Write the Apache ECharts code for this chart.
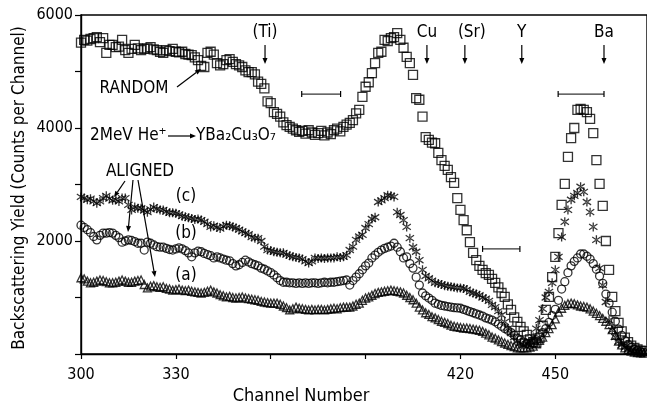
<!DOCTYPE html>
<html>
<head>
<meta charset="utf-8">
<script src="https://cdn.jsdelivr.net/npm/echarts@6/dist/echarts.min.js"></script>
<style>
  html, body { margin: 0; padding: 0; background: #fff; }
  #chart { width: 647px; height: 408px; }
</style>
</head>
<body>
<div id="chart"></div>
<script>
// one point per channel, channel 300 .. 478
var firstChannel = 300;

var randomYield = [
  5510, 5560, 5545, 5575, 5590, 5610, 5520, 5590, 5330, 5470,
  5470, 5430, 5440, 5560, 5380, 5330, 5400, 5470, 5410, 5380,
  5400, 5410, 5430, 5390, 5380, 5350, 5330, 5380, 5360, 5400,
  5350, 5340, 5350, 5310, 5300, 5290, 5250, 5200, 5100, 5080,
  5330, 5350, 5300, 5150, 5110, 5130, 5200, 5220, 5170, 5130,
  5110, 5080, 5020, 4990, 4990, 4950, 4820, 4780, 4700, 4470,
  4440, 4280, 4250, 4200, 4100, 4050, 4020, 3990, 3960, 3930,
  3950, 3900, 3960, 3920, 3880, 3910, 3950, 3870, 3920, 3890,
  3960, 3990, 3940, 4020, 4060, 4090, 4140, 4260, 4320, 4550,
  4730, 4810, 4970, 5150, 5330, 5350, 5560, 5540, 5590, 5610,
  5680, 5560, 5420, 5260, 5150, 4940, 4530, 4500, 4200, 3840,
  3790, 3740, 3730, 3560, 3430, 3330, 3260, 3130, 3030, 2760,
  2550, 2370, 2190, 1980, 1790, 1660, 1560, 1490, 1430, 1400,
  1330, 1260, 1180, 1080, 1010, 880, 780, 650, 570, 480,
  400, 340, 260, 210, 200, 280, 500, 780, 1010, 1360,
  1720, 2140, 2640, 3010, 3490, 3820, 4000, 4320, 4340, 4320,
  4280, 4160, 3910, 3430, 3010, 2620, 2000, 1490, 1010, 760,
  550, 400, 290, 210, 150, 110, 80, 60, 50
];

// (c) aligned, stars
var alignedC = [
  2780, 2760, 2730, 2750, 2700, 2670, 2700, 2760, 2800, 2750,
  2720, 2730, 2700, 2760, 2760, 2640, 2550, 2600, 2580, 2580,
  2540, 2510, 2560, 2600, 2570, 2550, 2550, 2520, 2500, 2500,
  2490, 2470, 2440, 2430, 2410, 2400, 2380, 2390, 2370, 2340,
  2300, 2250, 2270, 2240, 2220, 2260, 2280, 2270, 2250, 2230,
  2200, 2170, 2140, 2120, 2070, 2050, 2050, 2000, 1900, 1840,
  1830, 1810, 1800, 1790, 1790, 1760, 1740, 1720, 1710, 1700,
  1680, 1640, 1610, 1640, 1700, 1690, 1700, 1690, 1700, 1700,
  1700, 1720, 1710, 1720, 1750, 1840, 1900, 2020, 2080, 2110,
  2230, 2300, 2390, 2420, 2690, 2720, 2760, 2810, 2800, 2780,
  2510, 2460, 2370, 2250, 2050, 1890, 1810, 1660, 1490, 1380,
  1340, 1300, 1260, 1250, 1230, 1210, 1200, 1190, 1180, 1170,
  1170, 1160, 1140, 1100, 1080, 1060, 1040, 1000, 980, 940,
  870, 830, 760, 690, 570, 450, 370, 300, 230, 190,
  160, 180, 220, 300, 450, 600, 800, 1000, 1100, 1260,
  1490, 1720, 2070, 2340, 2550, 2730, 2800, 2850, 2960, 2870,
  2690, 2510, 2250, 2020, 1520, 1220, 920, 600, 420, 300,
  220, 160, 120, 90, 70, 50, 40, 30, 30
];

// (b) aligned, circles
var alignedB = [
  2280, 2240, 2200, 2150, 2080, 2020, 2100, 2140, 2140, 2150,
  2140, 2100, 2060, 1980, 2000, 2020, 2010, 1990, 1960, 1960,
  1840, 1980, 1960, 1930, 1900, 1890, 1890, 1870, 1850, 1840,
  1860, 1880, 1860, 1830, 1790, 1720, 1790, 1820, 1810, 1780,
  1760, 1740, 1700, 1720, 1700, 1680, 1660, 1650, 1600, 1560,
  1580, 1620, 1660, 1630, 1600, 1580, 1560, 1520, 1500, 1470,
  1440, 1400, 1350, 1300, 1270, 1270, 1260, 1260, 1250, 1260,
  1250, 1260, 1250, 1260, 1260, 1250, 1260, 1270, 1260, 1270,
  1270, 1280, 1290, 1300, 1310, 1220, 1300, 1360, 1420, 1490,
  1560, 1610, 1700, 1750, 1800, 1840, 1870, 1890, 1910, 1960,
  1890, 1810, 1700, 1720, 1600, 1520, 1360, 1220, 1080, 1030,
  990, 950, 900, 880, 860, 850, 840, 830, 820, 815,
  810, 790, 770, 750, 730, 710, 690, 670, 640, 620,
  600, 570, 530, 490, 450, 420, 380, 330, 280, 250,
  210, 180, 160, 190, 250, 320, 380, 450, 560, 680,
  790, 950, 1150, 1280, 1440, 1560, 1640, 1700, 1770, 1770,
  1730, 1680, 1600, 1500, 1380, 1250, 1060, 900, 740, 580,
  440, 330, 240, 170, 120, 80, 60, 40, 30
];

// (a) aligned, triangles
var alignedA = [
  1350, 1330, 1290, 1260, 1270, 1290, 1310, 1300, 1280, 1260,
  1260, 1270, 1290, 1310, 1290, 1270, 1270, 1290, 1300, 1310,
  1230, 1170, 1200, 1210, 1190, 1180, 1190, 1160, 1150, 1130,
  1140, 1150, 1130, 1120, 1130, 1110, 1100, 1090, 1080, 1090,
  1110, 1130, 1100, 1080, 1050, 1030, 1010, 1020, 1000, 990,
  1000, 1010, 990, 980, 970, 960, 950, 930, 920, 910,
  900, 900, 900, 880, 850, 820, 780, 800, 830, 810,
  800, 790, 780, 790, 780, 790, 790, 780, 790, 800,
  810, 800, 820, 830, 830, 830, 850, 880, 900, 950,
  990, 1010, 1040, 1070, 1090, 1100, 1110, 1120, 1130, 1120,
  1110, 1100, 1080, 1040, 1000, 960, 900, 830, 780, 730,
  700, 660, 640, 610, 580, 560, 540, 510, 490, 480,
  470, 460, 460, 450, 440, 430, 420, 400, 370, 340,
  300, 280, 250, 220, 195, 170, 150, 130, 110, 110,
  110, 110, 120, 140, 180, 240, 300, 380, 450, 520,
  620, 740, 810, 860, 890, 900, 890, 870, 850, 840,
  830, 800, 760, 720, 680, 630, 580, 520, 430, 330,
  230, 160, 110, 75, 50, 35, 25, 20, 15
];

var xLabels = [300, 330, 420, 450];
var yLabels = [2000, 4000, 6000];

// element edge markers (channel)
var elementNames = ['(Ti)', 'Cu', '(Sr)', 'Y', 'Ba'];
var elementChannels = [358.2, 409.4, 421.4, 439.4, 465.4];

var FONT = '"DejaVu Sans Condensed", "DejaVu Sans", sans-serif';
var INK = '#000';
var starPath = 'path://M4.3,0H5.7V10H4.3Z M0.2,2.4L0.9,1.2L9.8,7.6L9.1,8.8Z M0.2,7.6L0.9,8.8L9.8,2.4L9.1,1.2Z';

function toPoints (values) {
  var pts = [];
  for (var i = 0; i < values.length; i++) {
    pts.push([firstChannel + i, values[i]]);
  }
  return pts;
}

function hollow (name, symbol, size, values) {
  return {
    name: name,
    type: 'scatter',
    symbol: symbol,
    symbolSize: size,
    data: toPoints(values),
    itemStyle: { color: 'transparent', borderColor: INK, borderWidth: 1.3 },
    emphasis: { disabled: true },
    animation: false
  };
}

var chart = echarts.init(document.getElementById('chart'));
chart.setOption({
  backgroundColor: '#fff',
  animation: false,
  grid: {
    left: 81, right: 0, top: 15, bottom: 54,
    show: true, borderColor: INK, borderWidth: 1.4
  },
  xAxis: {
    type: 'value',
    min: 300,
    max: 479,
    interval: 30,
    axisLine: { lineStyle: { color: INK, width: 1.4 } },
    axisTick: { inside: false, length: 5, lineStyle: { color: INK, width: 1.2 } },
    splitLine: { show: false },
    axisLabel: {
      color: INK, fontFamily: FONT, fontSize: 16, margin: 13,
      showMaxLabel: false,
      formatter: function (v) { return xLabels.indexOf(v) >= 0 ? String(v) : ''; }
    }
  },
  yAxis: {
    type: 'value',
    min: 0,
    max: 6000,
    interval: 1000,
    axisLine: { show: true, lineStyle: { color: INK, width: 1.4 } },
    axisTick: { show: true, length: 6, lineStyle: { color: INK, width: 1.2 } },
    splitLine: { show: false },
    axisLabel: {
      color: INK, fontFamily: FONT, fontSize: 16, margin: 8,
      formatter: function (v) { return yLabels.indexOf(v) >= 0 ? String(v) : ''; }
    }
  },
  series: [
    hollow('(a)', 'triangle', 8, alignedA),
    hollow('(b)', 'circle', 8, alignedB),
    {
      name: '(c)',
      type: 'scatter',
      symbol: starPath,
      symbolSize: 9,
      data: toPoints(alignedC),
      itemStyle: { color: INK },
      emphasis: { disabled: true },
      animation: false
    },
    hollow('RANDOM', 'rect', 9, randomYield)
  ]
});

// ---- annotations ----
function line (x1, y1, x2, y2, w) {
  return { type: 'line', shape: { x1: x1, y1: y1, x2: x2, y2: y2 }, style: { stroke: INK, lineWidth: w || 1.2 }, silent: true };
}
function arrow (x1, y1, x2, y2) {
  var a = Math.atan2(y2 - y1, x2 - x1);
  var L = 6, W = 2.5;
  var bx = x2 - L * Math.cos(a), by = y2 - L * Math.sin(a);
  var px = -Math.sin(a) * W, py = Math.cos(a) * W;
  return [
    line(x1, y1, bx, by),
    { type: 'polygon', shape: { points: [[x2, y2], [bx + px, by + py], [bx - px, by - py]] }, style: { fill: INK }, silent: true }
  ];
}
function text (str, x, y, size, extra) {
  var s = { text: str, x: x, y: y, fill: INK, font: (size || 16) + 'px ' + FONT, textAlign: 'center', textVerticalAlign: 'middle' };
  for (var k in extra) s[k] = extra[k];
  return { type: 'text', style: s, silent: true };
}
function bracket (c1, c2, v) {
  var p1 = chart.convertToPixel({ gridIndex: 0 }, [c1, v]);
  var p2 = chart.convertToPixel({ gridIndex: 0 }, [c2, v]);
  return [line(p1[0], p1[1], p2[0], p2[1], 1), line(p1[0], p1[1] - 3, p1[0], p1[1] + 3, 1.2), line(p2[0], p2[1] - 3, p2[0], p2[1] + 3, 1.2)];
}

var g = [];
for (var i = 0; i < elementNames.length; i++) {
  var px = chart.convertToPixel({ gridIndex: 0 }, [elementChannels[i], 0])[0];
  var lx = px;
  if (elementNames[i] === '(Sr)') lx = px + 7;
  g.push(text(elementNames[i], lx, 33, 17));
  g = g.concat(arrow(px, 45, px, 64));
}
g = g.concat(bracket(369.8, 382.1, 4600));
g = g.concat(bracket(427.0, 438.8, 1860));
g = g.concat(bracket(450.9, 465.4, 4600));

g.push(text('RANDOM', 134, 89, 17));
g = g.concat(arrow(177, 87, 201, 69));

g.push(text('2MeV He\u207A', 90, 136, 17, { textAlign: 'left' }));
g = g.concat(arrow(168, 136, 196, 136));
g.push(text('YBa\u2082Cu\u2083O\u2087', 196, 136, 17, { textAlign: 'left' }));

g.push(text('ALIGNED', 140, 172, 17));
g = g.concat(arrow(125, 181, 114, 197));
g = g.concat(arrow(133, 180, 128, 232));
g = g.concat(arrow(138, 180, 155, 277));

g.push(text('(c)', 186, 197, 17));
g.push(text('(b)', 186, 234, 17));
g.push(text('(a)', 186, 276, 17));

g.push(text('Channel Number', 301, 396, 18));
var yTitle = text('Backscattering Yield (Counts per Channel)', 0, 0, 17);
yTitle.x = 20;
yTitle.y = 188;
yTitle.rotation = Math.PI / 2;
g.push(yTitle);

chart.setOption({ graphic: g });
</script>
</body>
</html>
